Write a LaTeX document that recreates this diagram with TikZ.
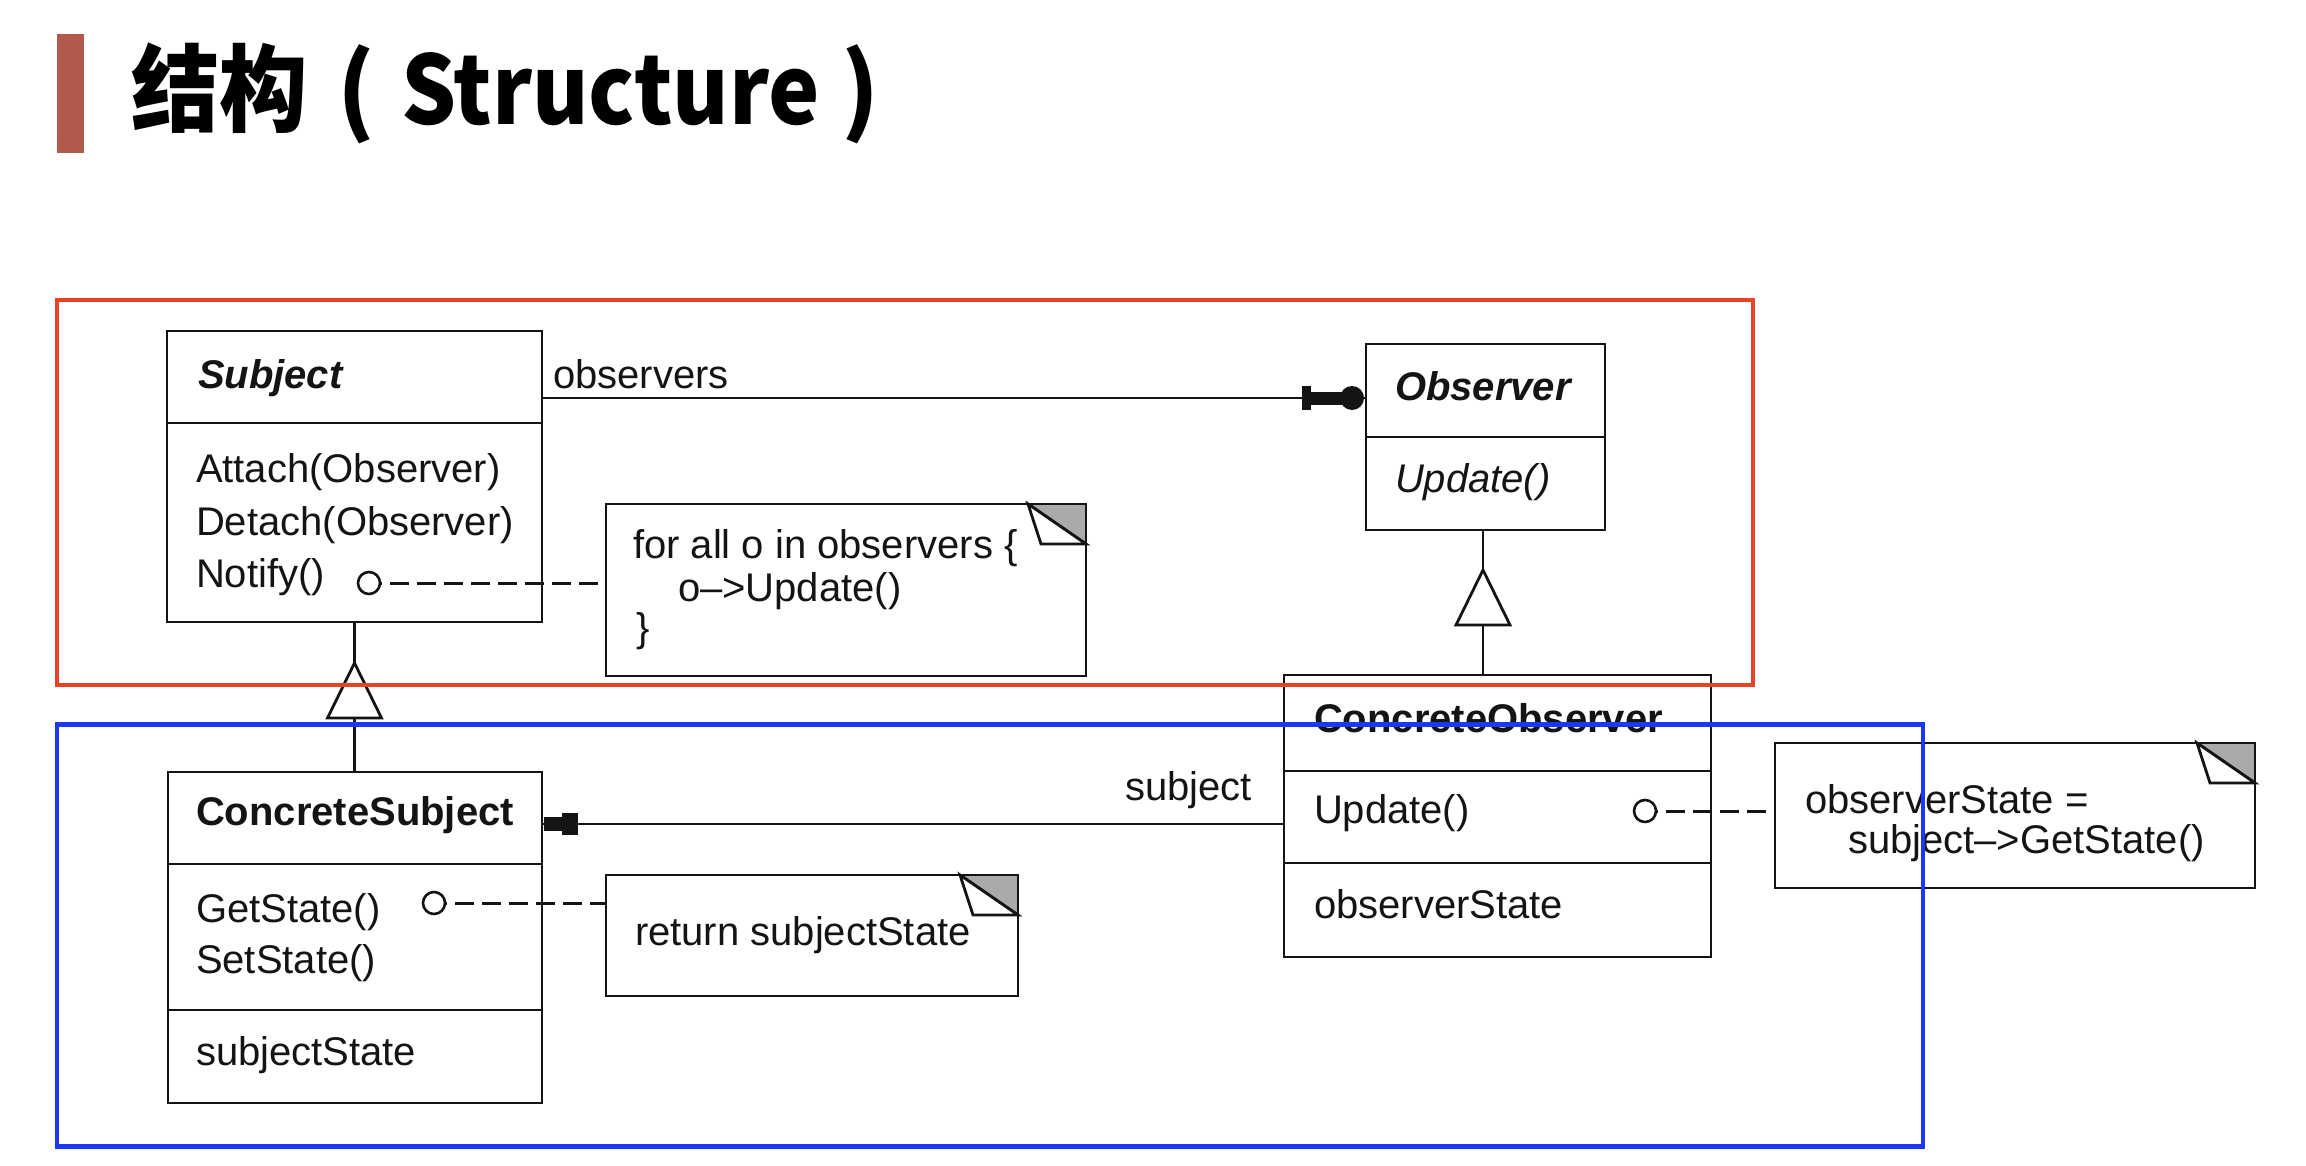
\documentclass[tikz,border=0pt]{standalone}
\usepackage{graphicx}
\usepackage{fontspec}
\setmainfont{Liberation Sans}
\newfontfamily\cjk{Noto Sans CJK SC}
\usetikzlibrary{calc}
\definecolor{titlebar}{RGB}{176,90,75}
\definecolor{redframe}{RGB}{233,66,38}
\definecolor{blueframe}{RGB}{28,56,245}
\definecolor{foldgray}{RGB}{170,170,170}
\definecolor{ink}{RGB}{20,20,20}
\newcommand{\foldnote}[1]{%
  \fill[foldgray] ($(#1.north east)+(-58,0)$) -- (#1.north east) -- ($(#1.north east)+(0,40)$) -- cycle;
  \draw[uml] (#1.north west) rectangle (#1.south east);
  \draw[uml] ($(#1.north east)+(-58,0)$) -- ($(#1.north east)+(0,40)$);
  \draw[uml,fill=white] ($(#1.north east)+(-58,0)$) -- ($(#1.north east)+(-45,40)$) -- ($(#1.north east)+(0,40)$) -- cycle;
}
\begin{document}
\begin{tikzpicture}[x=1pt,y=-1pt,
  uml/.style={line width=2.8pt, draw=ink, line join=miter},
  cls/.style={draw=ink, line width=2.8pt, anchor=north west, inner sep=0pt, outer sep=0pt, fill=white},
  notebox/.style={anchor=north west, inner sep=0pt, outer sep=0pt, fill=white},
  txt/.style={anchor=base west, inner sep=0pt, outer sep=0pt, text=ink, font=\fontsize{40}{48}\selectfont},
  port/.style={circle, draw=ink, fill=white, line width=2.6pt, minimum size=22pt, inner sep=0pt, outer sep=0pt},
  dashline/.style={line width=3pt, draw=ink, dash pattern=on 19pt off 8pt, dash phase=-10pt},
  frame/.style={line width=4.5pt}]
\useasboundingbox (0,0) rectangle (2306,1166);
\fill[white] (0,0) rectangle (2306,1166);

% title
\node[fill=titlebar, minimum width=27pt, minimum height=119pt, anchor=north west, inner sep=0pt] (bar) at (57,34) {};
\node[anchor=base west, inner sep=0pt, font=\cjk\bfseries\fontsize{95}{100}\selectfont] (title) at (131,125)
  {\makebox[206pt][l]{\scalebox{0.93}[1]{结构}}\makebox[64pt][l]{(}\makebox[440pt][l]{\scalebox{0.91}[1]{Structure}})};

% Subject
\node[cls, minimum width=375pt, minimum height=92pt] (subjN) at (167,331) {};
\node[cls, minimum width=375pt, minimum height=199pt] (subjO) at (167,423) {};
\node[txt, font=\fontsize{40}{48}\selectfont\bfseries\itshape] (tSubj) at (198,388) {Subject};
\node[txt] (tAttach) at (196,482) {Attach(Observer)};
\node[txt] (tDetach) at (196,535) {Detach(Observer)};
\node[txt] (tNotify) at (196,587) {Notify()};

% Observer
\node[cls, minimum width=239pt, minimum height=93pt] (obsN) at (1366,344) {};
\node[cls, minimum width=239pt, minimum height=93pt] (obsO) at (1366,437) {};
\node[txt, font=\fontsize{40}{48}\selectfont\bfseries\itshape] (tObs) at (1395,400) {Observer};
\node[txt, font=\fontsize{40}{48}\selectfont\itshape] (tObsUpd) at (1395,492) {Update()};

% ConcreteSubject
\node[cls, minimum width=374pt, minimum height=92pt] (csN) at (168,772) {};
\node[cls, minimum width=374pt, minimum height=146pt] (csO) at (168,864) {};
\node[cls, minimum width=374pt, minimum height=93pt] (csA) at (168,1010) {};
\node[txt, font=\fontsize{40}{48}\selectfont\bfseries] (tCS) at (196,825) {ConcreteSubject};
\node[txt] (tGet) at (196,922) {GetState()};
\node[txt] (tSet) at (196,973) {SetState()};
\node[txt] (tSS) at (196,1065) {subjectState};

% ConcreteObserver
\node[cls, minimum width=427pt, minimum height=96pt] (coN) at (1284,675) {};
\node[cls, minimum width=427pt, minimum height=92pt] (coO) at (1284,771) {};
\node[cls, minimum width=427pt, minimum height=94pt] (coA) at (1284,863) {};
\node[txt, font=\fontsize{40}{48}\selectfont\bfseries] (tCO) at (1314,732) {ConcreteObserver};
\node[txt] (tCOUpd) at (1314,823) {Update()};
\node[txt] (tOS) at (1314,918) {observerState};

% notes
\node[notebox, minimum width=480pt, minimum height=172pt] (n1) at (606,504) {};
\foldnote{n1}
\node[txt] (tn1a) at (633,558) {for all o in observers \{};
\node[txt] (tn1b) at (678,601) {o–>Update()};
\node[txt] (tn1c) at (636,641) {\}};

\node[notebox, minimum width=412pt, minimum height=121pt] (n2) at (606,875) {};
\foldnote{n2}
\node[txt] (tn2) at (635,945) {return subjectState};

\node[notebox, minimum width=480pt, minimum height=145pt] (n3) at (1775,743) {};
\foldnote{n3}
\node[txt] (tn3a) at (1805,813) {observerState =};
\node[txt] (tn3b) at (1848,853) {subject–>GetState()};

% note attachments
\node[port] (p1) at (369,583) {};
\node[port] (p2) at (434,903) {};
\node[port] (p3) at (1645,811) {};
\draw[dashline] (p1.east) -- (p1 -| n1.west);
\draw[dashline] (p2.east) -- (p2 -| n2.west);
\draw[dashline] (p3.east) -- (p3 -| n3.west);

% association observers
\coordinate (ya) at (0,398);
\draw[uml] (subjN.east |- ya) -- (obsN.west |- ya);
\node[txt] (tObservers) at (553,388) {observers};
\fill[ink] (1302,386) rectangle (1311,410);
\fill[ink] (1310,392) rectangle (1342,405);
\fill[ink] (1352,398) circle[radius=12pt];

% association subject
\coordinate (yb) at (0,824);
\draw[uml] (coO.west |- yb) -- (csN.east |- yb);
\node[txt] (tSubjLbl) at (1125,800) {subject};
\fill[ink] (544,817) rectangle (563,831);
\fill[ink] (562,813) rectangle (578,835);

% generalization Subject <- ConcreteSubject
\coordinate (g1) at (354.5,663);
\coordinate (g1b) at (354.5,718);
\draw[uml] (subjO.south) -- (g1);
\draw[uml] (g1b) -- (csN.north -| g1b);
\draw[uml, fill=white] (g1) -- ++(27,55) -- ++(-54,0) -- cycle;

% generalization Observer <- ConcreteObserver
\coordinate (g2) at (1483,570);
\coordinate (g2b) at (1483,625);
\draw[uml] (obsO.south -| g2) -- (g2);
\draw[uml] (g2b) -- (coN.north -| g2b);
\draw[uml, fill=white] (g2) -- ++(27,55) -- ++(-54,0) -- cycle;

% highlight frames
\draw[frame, draw=redframe] (57,300) rectangle (1753,685);
\draw[frame, draw=blueframe] (57,724.5) rectangle (1923,1146.5);
\end{tikzpicture}
\end{document}
